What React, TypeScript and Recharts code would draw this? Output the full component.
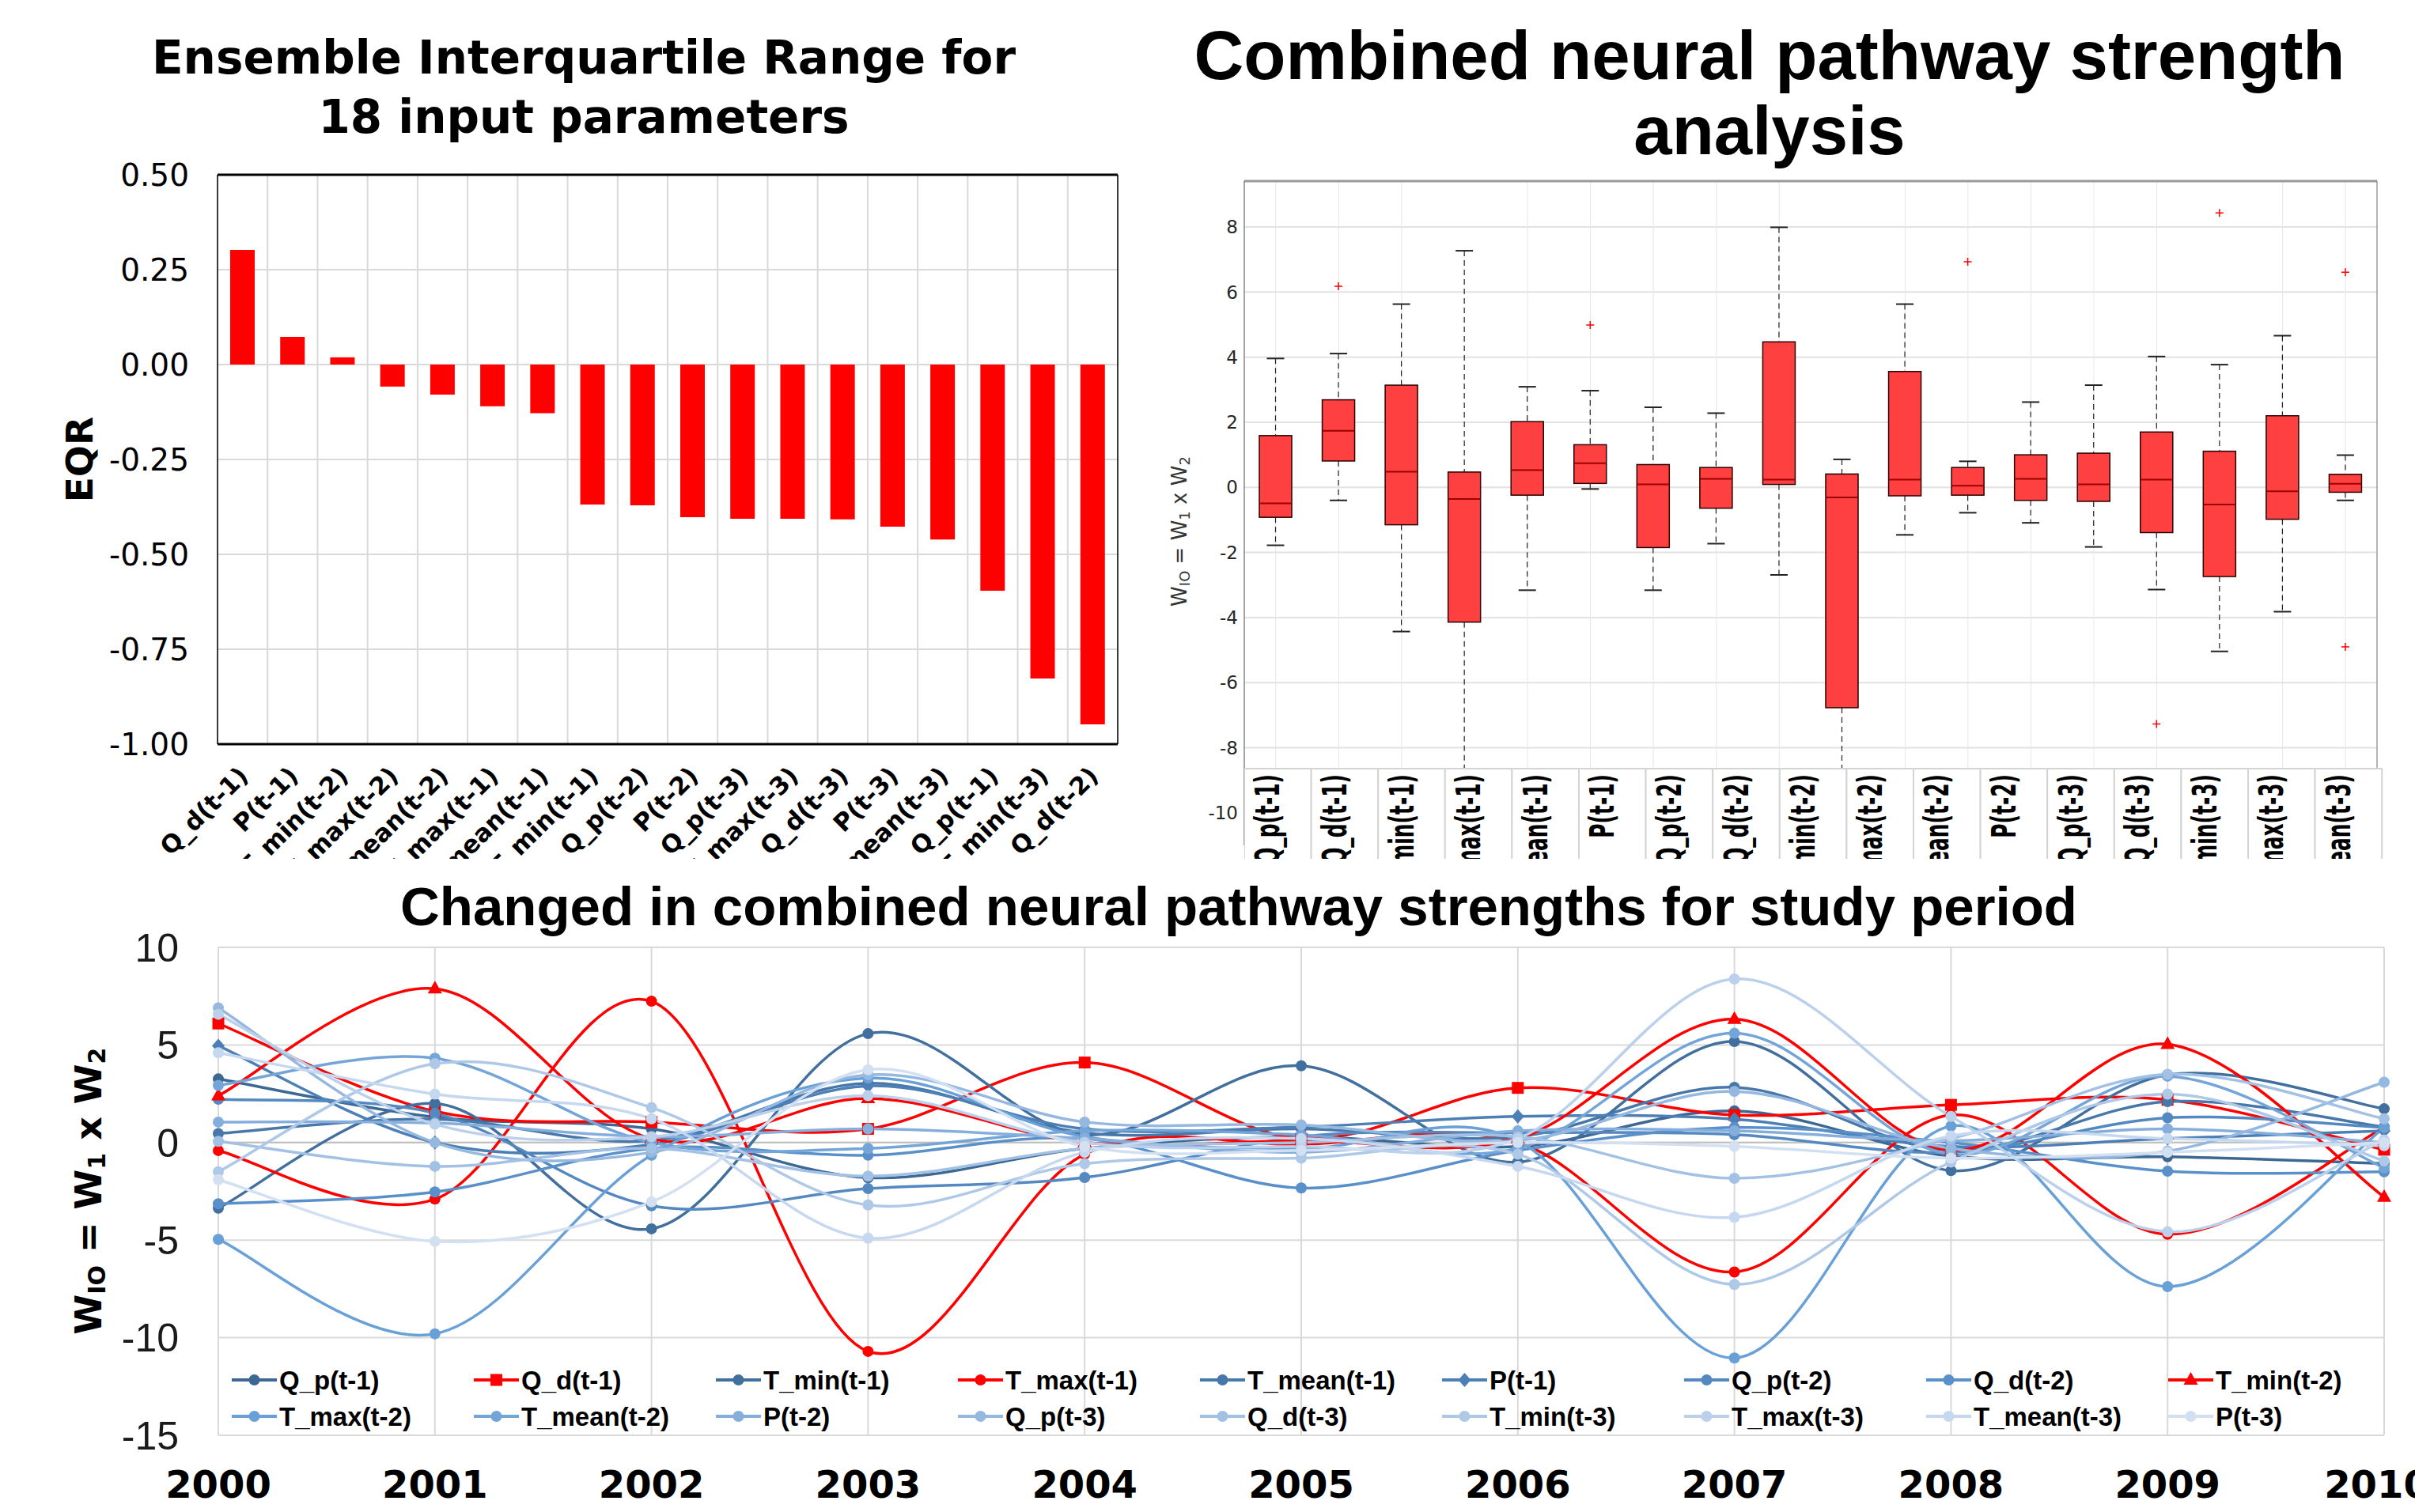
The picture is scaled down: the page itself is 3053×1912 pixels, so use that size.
import React from 'react';
import {
  BarChart, Bar, XAxis, YAxis, CartesianGrid, ReferenceLine, ComposedChart, LineChart, Line,
} from 'recharts';

// ---------------- Panel 1 : Ensemble Interquartile Range ----------------
const eqrCategories = [
  'Q_d(t-1)', 'P(t-1)', 'T_min(t-2)', 'T_max(t-2)', 'T_mean(t-2)', 'T_max(t-1)', 'T_mean(t-1)', 'T_min(t-1)',
  'Q_p(t-2)', 'P(t-2)', 'Q_p(t-3)', 'T_max(t-3)', 'Q_d(t-3)', 'P(t-3)', 'T_mean(t-3)', 'Q_p(t-1)', 'T_min(t-3)', 'Q_d(t-2)',
];
const eqrValues = [
  0.302, 0.073, 0.019, -0.058, -0.079, -0.11, -0.128, -0.369, -0.371, -0.402, -0.406, -0.406, -0.408, -0.427, -0.461,
  -0.596, -0.827, -0.948,
];
const eqrTicks = [-1, -0.75, -0.5, -0.25, 0, 0.25, 0.5];

// ---------------- Panel 2 : box plot ----------------
const boxCategories = [
  'Q_p(t-1)', 'Q_d(t-1)', 'T_min(t-1)', 'T_max(t-1)', 'T_mean(t-1)', 'P(t-1)', 'Q_p(t-2)', 'Q_d(t-2)', 'T_min(t-2)',
  'T_max(t-2)', 'T_mean(t-2)', 'P(t-2)', 'Q_p(t-3)', 'Q_d(t-3)', 'T_min(t-3)', 'T_max(t-3)', 'T_mean(t-3)', 'P(t-3)',
];
const boxAxisLabels = [
  'Q_p(t-1)', 'Q_d(t-1)', 'T_min(t-1)', 'T_max(t-1)', 'T_mean(t-1)', 'P(t-1)', 'Q_p(t-2)', 'Q_d(t-2)', 'T_min(t-2)',
  'T_max(t-2)', 'T_mean(t-2)', 'P(t-2)', 'Q_p(t-3)', 'Q_d(t-3)', 'T_min(t-3)', 'T_max(t-3)', 'T_mean(t-3)',
];
const boxLow = [-1.78, -0.4, -4.43, -9.6, -3.16, -0.05, -3.16, -1.73, -2.69, -9.6, -1.46, -0.78, -1.09, -1.83, -3.14, -5.04, -3.82, -0.4];
const boxQ1 = [-0.92, 0.81, -1.15, -4.14, -0.24, 0.12, -1.85, -0.64, 0.09, -6.77, -0.26, -0.24, -0.4, -0.43, -1.39, -2.74, -0.98, -0.15];
const boxMedian = [-0.49, 1.74, 0.48, -0.36, 0.53, 0.74, 0.09, 0.26, 0.24, -0.31, 0.24, 0.05, 0.26, 0.09, 0.24, -0.53, -0.12, 0.11];
const boxQ3 = [1.59, 2.69, 3.14, 0.47, 2.02, 1.31, 0.7, 0.61, 4.47, 0.41, 3.56, 0.61, 1.0, 1.05, 1.7, 1.11, 2.2, 0.4];
const boxHigh = [3.96, 4.11, 5.63, 7.27, 3.09, 2.97, 2.46, 2.28, 7.99, 0.86, 5.63, 0.8, 2.62, 3.14, 4.02, 3.77, 4.66, 0.99];
const boxOutliers: number[][] = [[], [6.18], [], [], [], [4.99], [], [], [], [], [], [6.93], [], [], [-7.27], [8.43], [], [6.61, -4.9]];
const boxTicks = [-10, -8, -6, -4, -2, 0, 2, 4, 6, 8];

// ---------------- Panel 3 : lines ----------------
const years = [2000, 2001, 2002, 2003, 2004, 2005, 2006, 2007, 2008, 2009, 2010];
const lineTicksY = [-15, -10, -5, 0, 5, 10];
const seriesNames = [
  'Q_p(t-1)', 'Q_d(t-1)', 'T_min(t-1)', 'T_max(t-1)', 'T_mean(t-1)', 'P(t-1)', 'Q_p(t-2)', 'Q_d(t-2)', 'T_min(t-2)',
  'T_max(t-2)', 'T_mean(t-2)', 'P(t-2)', 'Q_p(t-3)', 'Q_d(t-3)', 'T_min(t-3)', 'T_max(t-3)', 'T_mean(t-3)', 'P(t-3)',
];
const seriesColors = [
  '#3d6893', '#ff0000', '#41709e', '#ff0000', '#4878a9', '#4b7fb5', '#5488c0', '#5a90ca', '#ff0000',
  '#68a0d7', '#74a5d8', '#85aedc', '#95b8e0', '#a2c1e4', '#aec8e7', '#bad0eb', '#c6d8ef', '#d2e0f2',
];
const seriesMarkers = [
  'circle', 'square', 'circle', 'circle', 'circle', 'diamond', 'circle', 'circle', 'triangle',
  'circle', 'circle', 'circle', 'circle', 'circle', 'circle', 'circle', 'circle', 'circle',
];
const qp1 = [3.26, 1.3, 0.7, -1.8, -0.3, 0.3, -0.2, 1.62, -0.7, -0.73, -1.08];
const qd1 = [6.1, 1.6, 1.05, 0.7, 4.1, 0.2, 2.8, 1.41, 1.93, 2.19, -0.37];
const tmin1 = [-3.36, 2.0, -4.42, 5.58, 0.4, 3.93, -1.0, 5.18, -1.44, 3.47, 1.73];
const tmax1 = [-0.41, -2.9, 7.24, -10.7, -0.6, -0.1, 0.0, -6.63, 1.41, -4.7, 0.77];
const tmean1 = [0.46, 1.2, 0.1, 3.04, 0.5, 0.7, 0.3, 2.83, -0.4, 2.1, 0.8];
const p1 = [4.96, 0.0, -0.1, 2.9, 0.7, 0.8, 1.34, 1.2, -0.2, 0.2, 0.6];
const qp2 = [2.22, 1.5, -3.24, -2.36, -1.79, 0.3, 0.5, 0.41, -0.5, 1.27, 0.77];
const qd2 = [-3.14, -2.53, -0.3, -0.65, 0.2, -2.33, -0.4, 0.77, 0.0, -1.47, -1.5];
const tmin2 = [2.4, 7.88, 0.2, 2.26, 0.0, 0.1, 0.2, 6.32, -0.4, 5.04, -2.79];
const tmax2 = [-4.96, -9.8, -0.65, 3.3, 0.3, -0.3, 0.1, -11.04, 0.84, -7.38, 0.77];
const tmean2 = [2.93, 4.32, 0.0, -0.3, 0.6, 0.4, -0.3, 5.6, -0.6, 3.4, -1.3];
const p2 = [1.05, 1.0, 0.3, 0.7, 0.2, -0.5, 0.6, 0.6, 0.1, 0.7, 0.0];
const qp3 = [6.9, 0.0, -0.5, 3.47, 1.05, 0.9, 0.1, 2.62, -0.3, -0.44, 3.09];
const qd3 = [0.06, -1.22, -0.3, -1.72, -0.3, 0.0, 0.3, -1.83, 0.2, 3.5, 1.22];
const tmin3 = [-1.5, 4.04, 1.79, -3.2, -1.08, -0.8, -0.6, -7.27, -1.0, 2.48, -0.94];
const tmax3 = [6.57, 0.94, 0.3, 2.4, 0.0, -0.2, 0.2, 8.38, 1.34, -4.57, 0.13];
const tmean3 = [4.6, 2.48, 1.22, -4.9, -0.5, 0.2, -1.22, -3.83, 0.34, 0.2, -0.16];
const p3 = [-1.9, -5.06, -3.04, 3.73, -0.2, -0.4, 0.0, -0.2, -0.8, -0.5, 0.0];
const seriesValues = [qp1, qd1, tmin1, tmax1, tmean1, p1, qp2, qd2, tmin2, tmax2, tmean2, p2, qp3, qd3, tmin3, tmax3, tmean3, p3];

// ---------------- derived tables ----------------
const eqrData = eqrCategories.map((name, i) => ({ name, value: eqrValues[i] }));
const boxData = boxCategories.map((name, i) => ({
  name, range: [boxLow[i], boxHigh[i]], q1: boxQ1[i], med: boxMedian[i], q3: boxQ3[i], outliers: boxOutliers[i],
}));
const lineData = years.map((year, i) => {
  const row: any = { year };
  seriesNames.forEach((n, k) => { row[n] = seriesValues[k][i]; });
  return row;
});

// Excel-like smoothed curve (Catmull-Rom style bezier)
function excelSmooth(context: any) {
  let pts: number[][] = [];
  return {
    areaStart() {},
    areaEnd() {},
    lineStart() { pts = []; },
    point(x: number, y: number) { pts.push([+x, +y]); },
    lineEnd() {
      const n = pts.length;
      if (!n) return;
      context.moveTo(pts[0][0], pts[0][1]);
      for (let i = 0; i < n - 1; i++) {
        const a = pts[i > 0 ? i - 1 : i];
        const b = pts[i];
        const c = pts[i + 1];
        const d = pts[i + 2 < n ? i + 2 : i + 1];
        context.bezierCurveTo(
          b[0] + (c[0] - a[0]) / 6, b[1] + (c[1] - a[1]) / 6,
          c[0] - (d[0] - b[0]) / 6, c[1] - (d[1] - b[1]) / 6,
          c[0], c[1],
        );
      }
    },
  };
}

function Marker({ shape, cx, cy, color }: any) {
  if (cx == null || cy == null) return null;
  if (shape === 'square') return <rect x={cx - 7.5} y={cy - 7.5} width={15} height={15} fill={color} />;
  if (shape === 'triangle') return <path d={`M${cx},${cy - 10}L${cx + 9},${cy + 6}L${cx - 9},${cy + 6}Z`} fill={color} />;
  if (shape === 'diamond') return <path d={`M${cx},${cy - 9}L${cx + 8},${cy}L${cx},${cy + 9}L${cx - 8},${cy}Z`} fill={color} />;
  return <circle cx={cx} cy={cy} r={7} fill={color} />;
}

const EqrTick = (props: any) => {
  const { x, y, payload } = props;
  const tx = x + 9;
  return (
    <text x={tx} y={y} transform={`rotate(-45 ${tx} ${y})`} textAnchor="end"
      fontFamily="DejaVu Sans" fontWeight="bold" fontSize={31} fill="#000">
      {payload.value}
    </text>
  );
};

const BoxShape = (props: any) => {
  const { x, y, width, height, payload } = props;
  if (x == null || payload == null) return null;
  const lo = payload.range[0];
  const hi = payload.range[1];
  const top = Math.min(y, y + height);
  const span = Math.abs(height);
  const py = (v: number) => top + ((hi - v) / (hi - lo)) * span;
  const cx = x + width / 2;
  const cap = 11;
  return (
    <g>
      <line x1={cx} x2={cx} y1={py(hi)} y2={py(payload.q3)} stroke="#222" strokeWidth={1.2} strokeDasharray="7 5" />
      <line x1={cx} x2={cx} y1={py(payload.q1)} y2={py(lo)} stroke="#222" strokeWidth={1.2} strokeDasharray="7 5" />
      <line x1={cx - cap} x2={cx + cap} y1={py(hi)} y2={py(hi)} stroke="#222" strokeWidth={2} />
      <line x1={cx - cap} x2={cx + cap} y1={py(lo)} y2={py(lo)} stroke="#222" strokeWidth={2} />
      <rect x={x} y={py(payload.q3)} width={width} height={py(payload.q1) - py(payload.q3)}
        fill="#ff4040" stroke="#2a0000" strokeWidth={1.5} />
      <line x1={x} x2={x + width} y1={py(payload.med)} y2={py(payload.med)} stroke="#9b0000" strokeWidth={2} />
      {payload.outliers.map((o: number, k: number) => (
        <path key={k} d={`M${cx - 5},${py(o)}h10M${cx},${py(o) - 5}v10`} stroke="#ff0000" strokeWidth={1.5} />
      ))}
    </g>
  );
};

export default function App() {
  return (
    <div style={{ position: 'absolute', left: 0, top: 0, width: 3053, height: 1912, background: '#fff', overflow: 'hidden' }}>
      {/* Panel 1 */}
      <div style={{ position: 'absolute', left: 0, top: 0, width: 1450, height: 1086, overflow: 'hidden' }}>
        <BarChart width={1450} height={1086} data={eqrData} margin={{ top: 221, right: 36, left: 0, bottom: 0 }}>
          <CartesianGrid stroke="#d9d9d9" strokeWidth={2}
            verticalCoordinatesGenerator={({ offset }: any) =>
              Array.from({ length: eqrCategories.length + 1 }, (_, i) => offset.left + (i * offset.width) / eqrCategories.length)} />
          <XAxis dataKey="name" interval={0} height={145} tickSize={0} tickMargin={42} tickLine={false}
            axisLine={{ stroke: '#000', strokeWidth: 3 }} tick={<EqrTick />} />
          <YAxis domain={[-1, 0.5]} ticks={eqrTicks} width={275} tickSize={0} tickMargin={36} tickLine={false}
            axisLine={{ stroke: '#000', strokeWidth: 1.5 }} tickFormatter={(v: number) => v.toFixed(2)}
            tick={{ fontFamily: 'DejaVu Sans', fontSize: 39, fill: '#000' }} />
          <YAxis yAxisId="r" orientation="right" domain={[-1, 0.5]} width={1} tick={false} tickLine={false}
            axisLine={{ stroke: '#000', strokeWidth: 1.5 }} />
          <ReferenceLine y={0.5} stroke="#000" strokeWidth={3} />
          <Bar dataKey="value" fill="#ff0000" barSize={31} isAnimationActive={false} />
        </BarChart>
      </div>

      {/* Panel 2 */}
      <div style={{ position: 'absolute', left: 1450, top: 0, width: 1603, height: 1086, overflow: 'hidden' }}>
        <ComposedChart width={1603} height={1086} data={boxData} margin={{ top: 229, right: 48, left: 0, bottom: 17 }}>
          <CartesianGrid vertical={false} stroke="#e2e2e2" strokeWidth={2} />
          <CartesianGrid horizontal={false} stroke="#e6e6e6" strokeWidth={1} />
          <XAxis dataKey="name" hide />
          <XAxis xAxisId="top" dataKey="name" orientation="top" height={1} mirror tick={false} tickSize={8}
            tickLine={{ stroke: '#444' }} axisLine={{ stroke: '#9a9a9a', strokeWidth: 3 }} />
          <YAxis domain={[-11, 9.41]} ticks={boxTicks} width={123} tickSize={0} tickMargin={8} tickLine={false}
            axisLine={{ stroke: '#555', strokeWidth: 1 }} tick={{ fontFamily: 'DejaVu Sans', fontSize: 23, fill: '#262626' }} />
          <YAxis yAxisId="r" orientation="right" domain={[-11, 9.41]} ticks={boxTicks} width={1} mirror tick={false}
            tickSize={8} tickLine={{ stroke: '#444' }} axisLine={{ stroke: '#777', strokeWidth: 1 }} />
          <Bar dataKey="range" barSize={41} shape={<BoxShape />} isAnimationActive={false} />
        </ComposedChart>
      </div>

      {/* Panel 3 */}
      <div style={{ position: 'absolute', left: 0, top: 1100, width: 3053, height: 812, overflow: 'hidden' }}>
        <LineChart width={3053} height={812} data={lineData} margin={{ top: 98, right: 39, left: 0, bottom: 0 }}>
          <CartesianGrid stroke="#d9d9d9" strokeWidth={2} />
          <XAxis dataKey="year" type="number" domain={[2000, 2010]} ticks={years} height={97} tickSize={0} tickMargin={45}
            tickLine={false} axisLine={false} tick={{ fontFamily: 'DejaVu Sans', fontWeight: 'bold', fontSize: 48, fill: '#000' }} />
          <YAxis domain={[-15, 10]} ticks={lineTicksY} width={276} tickSize={0} tickMargin={50} tickLine={false}
            axisLine={false} tick={{ fontFamily: 'Liberation Sans', fontSize: 50, fill: '#1a1a1a' }} />
          <ReferenceLine y={0} stroke="#bfbfbf" strokeWidth={2} />
          {seriesNames.map((name, k) => (
            <Line key={name} dataKey={name} type={excelSmooth as any} stroke={seriesColors[k]} strokeWidth={3.5}
              isAnimationActive={false} activeDot={false}
              dot={(p: any) => <Marker key={`${name}-${p.index}`} shape={seriesMarkers[k]} cx={p.cx} cy={p.cy} color={seriesColors[k]} />} />
          ))}
        </LineChart>
      </div>

      {/* Overlay texts */}
      <svg width={3053} height={1912} style={{ position: 'absolute', left: 0, top: 0, pointerEvents: 'none' }}>
        <defs>
          <clipPath id="boxLabelClip"><rect x={1573} y={970} width={1445} height={116} /></clipPath>
        </defs>
        <g fontFamily="DejaVu Sans" fontWeight="bold" fontSize={58} textAnchor="middle" fill="#000">
          <text x={738} y={93}>Ensemble Interquartile Range for</text>
          <text x={738} y={168}>18 input parameters</text>
        </g>
        <g fontFamily="Liberation Sans" fontWeight="bold" fontSize={87} textAnchor="middle" fill="#000">
          <text x={2237} y={100}>Combined neural pathway strength</text>
          <text x={2237} y={195}>analysis</text>
        </g>
        <text x={1566} y={1170} fontFamily="Liberation Sans" fontWeight="bold" fontSize={69} textAnchor="middle" fill="#000">
          Changed in combined neural pathway strengths for study period
        </text>
        <text x={100} y={581} transform="rotate(-90 100 581)" fontFamily="DejaVu Sans" fontWeight="bold" fontSize={47}
          textAnchor="middle" dominantBaseline="central" fill="#000">EQR</text>
        <text x={1491} y={672} transform="rotate(-90 1491 672)" fontFamily="DejaVu Sans" fontSize={26}
          textAnchor="middle" dominantBaseline="central" fill="#333">
          W<tspan fontSize={18} dy={6}>IO</tspan><tspan dy={-6}> = W</tspan><tspan fontSize={18} dy={6}>1</tspan>
          <tspan dy={-6}> x W</tspan><tspan fontSize={18} dy={6}>2</tspan>
        </text>
        <text x={112} y={1506} transform="rotate(-90 112 1506)" fontFamily="DejaVu Sans" fontWeight="bold" fontSize={46}
          textAnchor="middle" dominantBaseline="central" fill="#000">
          W<tspan fontSize={30} dy={10}>IO</tspan><tspan dy={-10}> = W</tspan><tspan fontSize={30} dy={10}>1</tspan>
          <tspan dy={-10}> x W</tspan><tspan fontSize={30} dy={10}>2</tspan>
        </text>
        {/* box plot category label cells */}
        <g clipPath="url(#boxLabelClip)">
          {boxAxisLabels.map((lab, i) => {
            const w = 84.6;
            const x0 = 1573 + i * w;
            const cx = x0 + w / 2 + 2;
            return (
              <g key={lab}>
                <rect x={x0} y={972} width={w} height={130} fill="#fff" stroke="#d4d4d4" strokeWidth={2} />
                <text transform={`translate(${cx} 979) rotate(-90) scale(0.58 1)`} textAnchor="end"
                  fontFamily="DejaVu Sans" fontWeight="bold" fontSize={43} fill="#000">{lab}</text>
              </g>
            );
          })}
        </g>
        {/* legend of bottom chart */}
        {seriesNames.map((name, i) => {
          const col = i % 9;
          const row = Math.floor(i / 9);
          const x = 293 + col * 306;
          const y = 1745 + row * 46;
          return (
            <g key={name}>
              <line x1={x} x2={x + 57} y1={y} y2={y} stroke={seriesColors[i]} strokeWidth={4} />
              <Marker shape={seriesMarkers[i]} cx={x + 28.5} cy={y} color={seriesColors[i]} />
              <text x={x + 60} y={y} dominantBaseline="central" fontFamily="Liberation Sans" fontWeight="bold"
                fontSize={33} fill="#000">{name}</text>
            </g>
          );
        })}
      </svg>
    </div>
  );
}
